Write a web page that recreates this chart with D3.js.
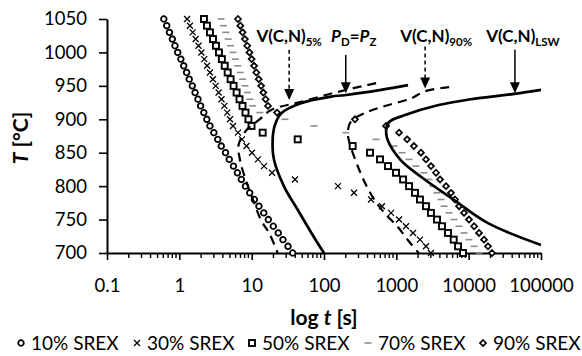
<!DOCTYPE html>
<html>
<head>
<meta charset="utf-8">
<script src="https://cdn.jsdelivr.net/npm/d3@7"></script>
<style>
  html, body { margin: 0; padding: 0; background: #fff; }
  svg { display: block; font-family: Lato, "Open Sans", sans-serif; }
</style>
</head>
<body>
<svg id="chart" width="582" height="356"></svg>
<script>
// Temperatures (°C) at which the recrystallised fractions are evaluated
const temps = [1050, 1040, 1030, 1020, 1010, 1000, 990, 980, 970, 960, 950, 940,
               930, 920, 910, 900, 890, 880, 870, 860, 850, 840, 830, 820,
               810, 800, 790, 780, 770, 760, 750, 740, 730, 720, 710, 700];

// Time (s) to reach a given static recrystallisation fraction
const srex10 = [0.61, 0.67, 0.73, 0.80, 0.87, 0.95, 1.05, 1.15, 1.26, 1.37, 1.51, 1.65,
                1.81, 1.97, 2.18, 2.40, 2.65, 3.0, 3.4, 3.8, 4.35, 4.9, 5.6, 6.35,
                7.2, 8.2, 9.4, 10.9, 12.6, 14.7, 17.0, 19.9, 23.3, 27.1, 31.8, 36.9];
const srex30 = [1.28, 1.40, 1.53, 1.68, 1.84, 2.02, 2.21, 2.42, 2.65, 2.91, 3.18, 3.49,
                3.83, 4.19, 4.59, 5.02, 5.52, 6.47, 7.35, 8.49, 10.1, 12.2, 14.8, 19.1,
                39.7, 156, 260, 447, 634, 844, 1090, 1360, 1700, 2120, 2570, 3010];
const srex50 = [2.19, 2.41, 2.65, 2.92, 3.21, 3.53, 3.87, 4.24, 4.66, 5.11, 5.62, 6.19,
                6.79, 7.47, 8.22, 9.02, 9.95, 14.2, 43.3, 249, 433, 595, 767, 990,
                1240, 1500, 1810, 2120, 2570, 3010, 3650, 4280, 5180, 6210, 7130, 8360];
const srex70 = [3.77, 4.07, 4.39, 4.74, 5.11, 5.52, 5.96, 6.43, 6.94, 7.49, 8.09, 8.73,
                9.42, 10.3, 13.0, 28.9, 72.8, 201, 524, 929, 1200, 1500, 1870, 2410,
                2830, 3210, 3650, 4150, 4560, 5350, 6270, 7360, 8620, 10100, 11900, 13900];
const srex90 = [6.47, 6.97, 7.49, 8.06, 8.68, 9.33, 10.0, 10.8, 11.6, 12.5, 13.5, 14.5,
                15.6, 16.8, 22.4, 268, 720, 1090, 1410, 1750, 2190, 2570, 3010, 3540,
                4020, 4860, 5700, 6470, 7360, 8620, 10100, 11900, 13900, 16300, 18500, 21000];

const seriesNames = ["10% SREX", "30% SREX", "50% SREX", "70% SREX", "90% SREX"];

// Precipitation curves: time (s) and temperature (°C)
const vcn5Time  = [525, 155, 47.9, 18.6, 12.6, 8.5, 6.6, 6.9, 8.3, 10.5, 13.5, 17.4, 22.9];
const vcn5Temp  = [954, 941, 926, 914, 899, 884, 862, 839, 809, 779, 749, 730, 700];
const pdpzTime  = [1450, 617, 191, 126, 47.9, 25.7, 20.9, 19.5, 20.4, 28.2, 43.7, 72.4, 100];
const pdpzTemp  = [951, 944, 936, 934, 924, 909, 891, 869, 839, 799, 764, 724, 700];
const vcn90Time = [5370, 2510, 1580, 759, 398, 234, 214, 234, 295, 380, 501, 724, 1050, 1450, 2040];
const vcn90Temp = [948, 942, 931, 921, 911, 896, 877, 859, 829, 802, 779, 757, 739, 719, 700];
const lswTime   = [100000, 42700, 10700, 3720, 1290, 794, 724, 759, 1150, 2190, 6310, 18200, 100000];
const lswTemp   = [944, 938, 930, 921, 906, 896, 884, 869, 839, 814, 779, 745, 712];

// Annotation arrows (time, start temperature, tip temperature)
const arrowTime = [33, 200, 2500, 43600];
const arrowFrom = [1004, 996, 1009, 1004];
const arrowTo   = [929, 939, 946, 939];
const labelTemp = 1016;

// Axis ticks
const yTicks = [700, 750, 800, 850, 900, 950, 1000, 1050];
const xTicks = [0.1, 1, 10, 100, 1000, 10000, 100000];
const xTickLabels = ["0.1", "1", "10", "100", "1000", "10000", "100000"];

const svg = d3.select("#chart");
const x = d3.scaleLog().domain([0.1, 100000]).range([107, 541]);
const y = d3.scaleLinear().domain([700, 1050]).range([253, 19]);

// ---------- axes ----------
const yAxis = svg.append("g")
  .attr("transform", "translate(107,0)")
  .call(d3.axisLeft(y).tickValues(yTicks).tickSize(8).tickSizeOuter(0).tickPadding(12)
    .tickFormat(d3.format("d")));
yAxis.select(".domain").attr("stroke", "#000").attr("stroke-width", 2);
yAxis.selectAll(".tick line").attr("stroke", "#000").attr("stroke-width", 1.6);
yAxis.selectAll(".tick text").attr("font-size", 18.5).attr("font-family", "Lato").attr("fill", "#000");

const minorTicks = [];
for (let e = -1; e < 5; e++) {
  for (let m = 2; m <= 9; m++) minorTicks.push(m * Math.pow(10, e));
}
const xAxis = svg.append("g")
  .attr("transform", "translate(0,253)")
  .call(d3.axisBottom(x).tickValues(xTicks).tickSize(7).tickSizeOuter(0).tickPadding(19)
    .tickFormat((d, i) => xTickLabels[i]));
xAxis.select(".domain").attr("stroke", "#000").attr("stroke-width", 2);
xAxis.selectAll(".tick line").attr("stroke", "#000").attr("stroke-width", 1.6);
xAxis.selectAll(".tick text").attr("font-size", 18.5).attr("font-family", "Lato").attr("fill", "#000");
xAxis.selectAll(".minor").data(minorTicks).enter().append("line")
  .attr("class", "minor")
  .attr("x1", d => x(d)).attr("x2", d => x(d))
  .attr("y1", 0).attr("y2", 5)
  .attr("stroke", "#000").attr("stroke-width", 1.4);

// axis titles
svg.append("text")
  .attr("x", 324).attr("y", 325)
  .attr("text-anchor", "middle")
  .attr("font-size", 21).attr("font-weight", "bold")
  .call(t => {
    t.append("tspan").text("log ");
    t.append("tspan").attr("font-style", "italic").text("t");
    t.append("tspan").text(" [s]");
  });
svg.append("text")
  .attr("transform", "translate(28,138) rotate(-90)")
  .attr("text-anchor", "middle")
  .attr("font-size", 21).attr("font-weight", "bold")
  .call(t => {
    t.append("tspan").attr("font-style", "italic").text("T");
    t.append("tspan").text(" [°C]");
  });

// ---------- markers ----------
function drawMarker(g, type) {
  if (type === 0) {
    g.append("circle").attr("r", 2.8).attr("fill", "#fff").attr("stroke", "#000").attr("stroke-width", 1.8);
  } else if (type === 1) {
    g.append("path").attr("d", "M-3,-3L3,3M-3,3L3,-3").attr("stroke", "#000").attr("stroke-width", 1.3).attr("fill", "none");
  } else if (type === 2) {
    g.append("rect").attr("x", -3).attr("y", -3).attr("width", 6).attr("height", 6)
      .attr("fill", "#fff").attr("stroke", "#000").attr("stroke-width", 1.9);
  } else if (type === 3) {
    g.append("path").attr("d", "M-3.5,0L3.5,0").attr("stroke", "#8c8c8c").attr("stroke-width", 1.6);
  } else {
    g.append("path").attr("d", "M0,-3L3,0L0,3L-3,0Z").attr("fill", "#fff").attr("stroke", "#000").attr("stroke-width", 1.7);
  }
}

const allSeries = [srex10, srex30, srex50, srex70, srex90];
const markerLayer = svg.append("g");
allSeries.forEach((vals, s) => {
  const pts = temps.map((T, i) => ({ t: vals[i], T }));
  markerLayer.append("g").selectAll("g").data(pts).enter().append("g")
    .attr("transform", d => `translate(${x(d.t)},${y(d.T)})`)
    .each(function () { drawMarker(d3.select(this), s); });
});

// ---------- curves ----------
const line = d3.line().x(d => x(d.t)).y(d => y(d.T)).curve(d3.curveCatmullRom.alpha(0.5));
function addCurve(times, tempsArr, dashed) {
  const pts = times.map((t, i) => ({ t, T: tempsArr[i] }));
  svg.append("path").datum(pts)
    .attr("d", line)
    .attr("fill", "none")
    .attr("stroke", "#000")
    .attr("stroke-width", dashed ? 2.2 : 2.7)
    .attr("stroke-dasharray", dashed ? "9,6" : null);
}
addCurve(vcn5Time, vcn5Temp, true);
addCurve(pdpzTime, pdpzTemp, false);
addCurve(vcn90Time, vcn90Temp, true);
addCurve(lswTime, lswTemp, false);

// ---------- annotations ----------
const arrowDashed = [true, false, true, false];
arrowTime.forEach((t, i) => {
  const ax = x(t), y0 = y(arrowFrom[i]), y1 = y(arrowTo[i]);
  svg.append("line")
    .attr("x1", ax).attr("x2", ax).attr("y1", y0).attr("y2", y1 - 9)
    .attr("stroke", "#000").attr("stroke-width", 1.5)
    .attr("stroke-dasharray", arrowDashed[i] ? "4,3" : null);
  svg.append("path")
    .attr("d", `M${ax - 5},${y1 - 11}L${ax + 5},${y1 - 11}L${ax},${y1}Z`)
    .attr("fill", "#000");
});

const labelShift = [0, 8, 11, 8];
const labelParts = [
  [["V(C,N)", false, false], ["5%", true, false]],
  [["P", false, true], ["D", true, false], ["=", false, false], ["P", false, true], ["Z", true, false]],
  [["V(C,N)", false, false], ["90%", true, false]],
  [["V(C,N)", false, false], ["LSW", true, false]]
];
labelParts.forEach((parts, i) => {
  const t = svg.append("text")
    .attr("x", x(arrowTime[i]) + labelShift[i])
    .attr("y", y(labelTemp))
    .attr("text-anchor", "middle")
    .attr("font-size", 17).attr("font-weight", "bold");
  let down = false;
  parts.forEach(([str, sub, ital]) => {
    const sp = t.append("tspan").text(str);
    if (sub && !down) { sp.attr("dy", 4).attr("font-size", 11.5); down = true; }
    else if (sub) { sp.attr("font-size", 11.5); }
    else if (down) { sp.attr("dy", -4); down = false; }
    if (ital) sp.attr("font-style", "italic");
  });
});

// ---------- legend ----------
const legendX = [21, 137, 252, 368, 483];
const legend = svg.append("g").attr("transform", "translate(0,343)");
seriesNames.forEach((name, i) => {
  const g = legend.append("g").attr("transform", `translate(${legendX[i]},0)`);
  drawMarker(g, i);
  g.append("text").attr("x", 10).attr("y", 6.5)
    .attr("font-size", 19).text(name);
});
</script>
</body>
</html>
